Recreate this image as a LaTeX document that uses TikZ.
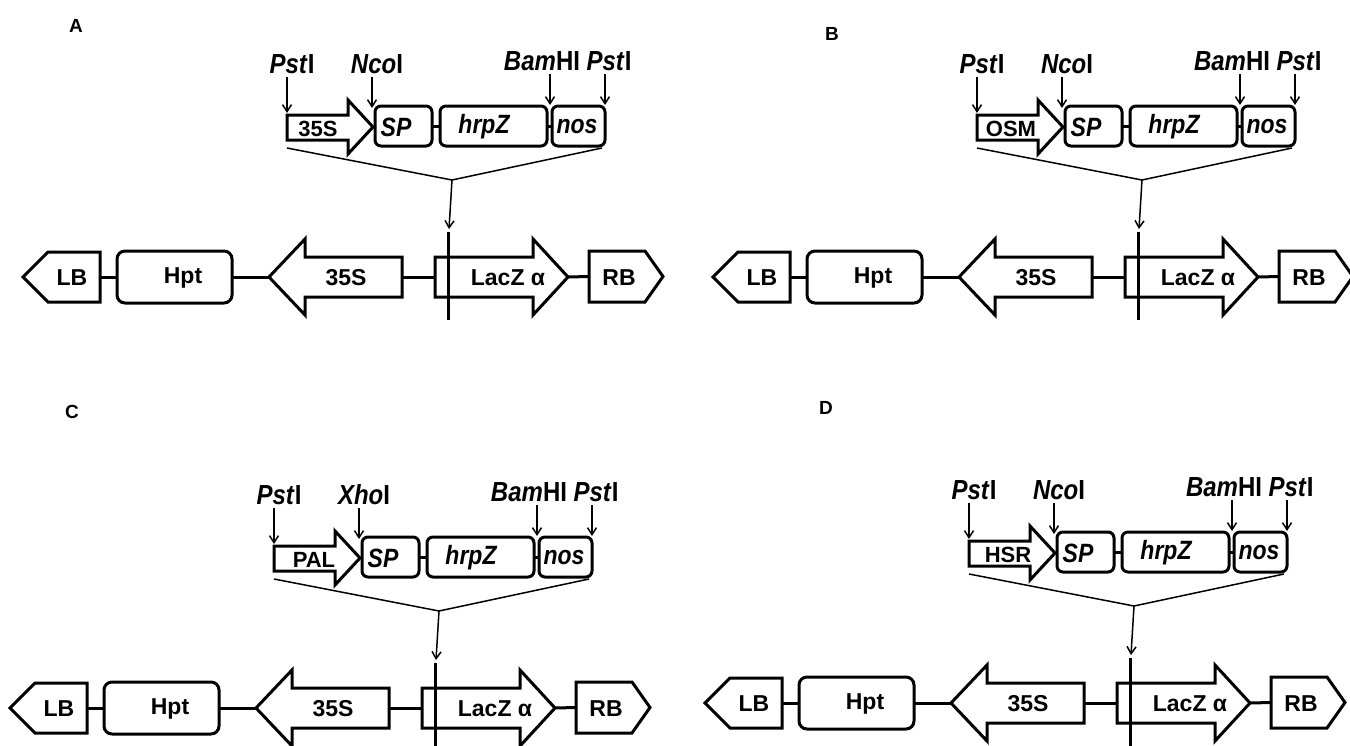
\documentclass[tikz,border=0pt]{standalone}
\usepackage{fontspec}
\setmainfont{Liberation Sans}
\usetikzlibrary{arrows.meta}
\newcommand{\tall}[1]{\scalebox{1}[1.15]{#1}}
\tikzset{
  hid/.style={inner sep=0pt, outer sep=0pt, draw=none},
  shp/.style={line width=3pt, line join=miter},
  rbox/.style={draw, line width=3pt, rounded corners=8pt, inner sep=0pt, outer sep=0pt},
  tbox/.style={draw, line width=3pt, rounded corners=6pt, inner sep=0pt, outer sep=0pt, minimum height=40pt},
  link/.style={line width=3pt},
  txt/.style={inner sep=0pt, font=\fontsize{23}{25}\selectfont\bfseries},
  ttxt/.style={inner sep=0pt, font=\fontsize{22}{24}\selectfont\bfseries},
  itxt/.style={inner sep=0pt, font=\fontsize{23}{25}\selectfont\bfseries\itshape},
  enz/.style={inner sep=2pt, anchor=base, font=\fontsize{24}{26}\selectfont\bfseries},
  cutarrow/.style={line width=1.5pt, -{Straight Barb[length=7pt,width=9pt]}},
  brk/.style={line width=1.5pt},
  letter/.style={inner sep=0pt, font=\fontsize{19}{21}\selectfont\bfseries},
}
% #1 prefix, #2 dx, #3 dy, #4 promoter text, #5 promoter text x, #6 second enzyme
\newcommand{\construct}[6]{%
\begin{scope}[shift={(#2,#3)}]
  % upper cassette
  \node[hid, minimum width=86pt, minimum height=54pt] (#1prom) at (330,127) {};
  \draw[shp] ([yshift=-15pt]#1prom.north west) -- ([xshift=-25pt,yshift=-15pt]#1prom.north east) -- ([xshift=-25pt]#1prom.north east) -- (#1prom.east) -- ([xshift=-25pt]#1prom.south east) -- ([xshift=-25pt,yshift=14pt]#1prom.south east) -- ([yshift=14pt]#1prom.south west) -- cycle;
  \node[ttxt] (#1promt) at (#5,129) {#4};
  \node[tbox, minimum width=57pt] (#1sp) at (403.5,126) {};
  \node[tbox, minimum width=107pt] (#1hrp) at (493.5,126) {};
  \node[tbox, minimum width=53pt] (#1nos) at (578.5,126) {};
  \node[itxt] (#1spt) at (396,127) {\tall{SP}};
  \node[itxt] (#1hrpt) at (484,127) {\tall{hrpZ}};
  \node[itxt] (#1nost) at (577,127) {\tall{nos}};
  \draw[link] (#1sp.east) -- (#1hrp.west);
  \draw[link] (#1hrp.east) -- (#1nos.west);
  % restriction sites
  \node[enz] (#1ea) at (292,73) {\tall{\textit{Pst}I}};
  \node[enz] (#1eb) at (377,73) {\tall{\textit{#6}I}};
  \node[enz] (#1ec) at (542,70) {\tall{\textit{Bam}HI}};
  \node[enz] (#1ed) at (609,70) {\tall{\textit{Pst}I}};
  \coordinate (#1ta) at (287,113);
  \coordinate (#1tb) at (372,108);
  \coordinate (#1tc) at (550,105);
  \coordinate (#1td) at (605,105);
  \draw[cutarrow] ([yshift=-2pt]#1ea.south -| #1ta) -- (#1ta);
  \draw[cutarrow] ([yshift=-2pt]#1eb.south -| #1tb) -- (#1tb);
  \draw[cutarrow] ([yshift=-2pt]#1ec.south -| #1tc) -- (#1tc);
  \draw[cutarrow] ([yshift=-2pt]#1ed.south -| #1td) -- (#1td);
  % bracket
  \coordinate (#1bl) at (287,148);
  \coordinate (#1v) at (452,180);
  \coordinate (#1br) at (602,148);
  \coordinate (#1in) at (449,229);
  \draw[brk] (#1bl) -- (#1v) -- (#1br);
  \draw[cutarrow] (#1v) -- (#1in);
  % vector
  \node[hid, minimum width=77pt, minimum height=50pt] (#1lb) at (61.5,277) {};
  \draw[shp] (#1lb.north east) -- ([xshift=25pt]#1lb.north west) -- (#1lb.west) -- ([xshift=25pt]#1lb.south west) -- (#1lb.south east) -- cycle;
  \node[rbox, minimum width=115pt, minimum height=52pt] (#1hpt) at (174.5,277) {};
  \node[hid, minimum width=133pt, minimum height=76pt] (#1pro) at (335.5,277) {};
  \draw[shp] (#1pro.west) -- ([xshift=36pt]#1pro.north west) -- ([xshift=36pt,yshift=-18pt]#1pro.north west) -- ([yshift=-18pt]#1pro.north east) -- ([yshift=18pt]#1pro.south east) -- ([xshift=36pt,yshift=18pt]#1pro.south west) -- ([xshift=36pt]#1pro.south west) -- cycle;
  \node[hid, minimum width=133pt, minimum height=76pt] (#1lac) at (501.5,277) {};
  \draw[shp] ([yshift=-18pt]#1lac.north west) -- ([xshift=-35pt,yshift=-18pt]#1lac.north east) -- ([xshift=-35pt]#1lac.north east) -- (#1lac.east) -- ([xshift=-35pt]#1lac.south east) -- ([xshift=-35pt,yshift=18pt]#1lac.south east) -- ([yshift=18pt]#1lac.south west) -- cycle;
  \node[hid, minimum width=74pt, minimum height=51pt] (#1rb) at (626,276.5) {};
  \draw[shp] (#1rb.north west) -- ([xshift=-18pt]#1rb.north east) -- (#1rb.east) -- ([xshift=-18pt]#1rb.south east) -- (#1rb.south west) -- cycle;
  \draw[link] (#1lb.east) -- (#1hpt.west);
  \draw[link] (#1hpt.east) -- (#1pro.west);
  \draw[link] (#1pro.east) -- (#1lac.west);
  \draw[link] (#1lac.east) -- (#1rb.west);
  \node[txt] (#1lbt) at (72,278) {LB};
  \node[txt] (#1hptt) at (183,278) {Hpt};
  \node[txt] (#1prot) at (346,278) {35S};
  \node[txt] (#1lact) at (508,278) {LacZ α};
  \node[txt] (#1rbt) at (619,278) {RB};
  \coordinate (#1ct) at (448,232);
  \coordinate (#1cb) at (448,320);
  \draw[line width=3pt] (#1ct) -- (#1cb);
\end{scope}}

\begin{document}
\begin{tikzpicture}[x=1pt,y=-1pt]
  \useasboundingbox[fill=white] (0,0) rectangle (1350,745);
  \construct{a}{0}{0}{35S}{318}{Nco}
  \construct{b}{690}{0}{OSM}{321}{Nco}
  \construct{c}{-13}{431}{PAL}{327}{Xho}
  \construct{d}{682}{426}{HSR}{326}{Nco}
  \node[letter] (la) at (76,26) {A};
  \node[letter] (lb) at (832,34) {B};
  \node[letter] (lc) at (72,412) {C};
  \node[letter] (ld) at (826,408) {D};
\end{tikzpicture}
\end{document}
